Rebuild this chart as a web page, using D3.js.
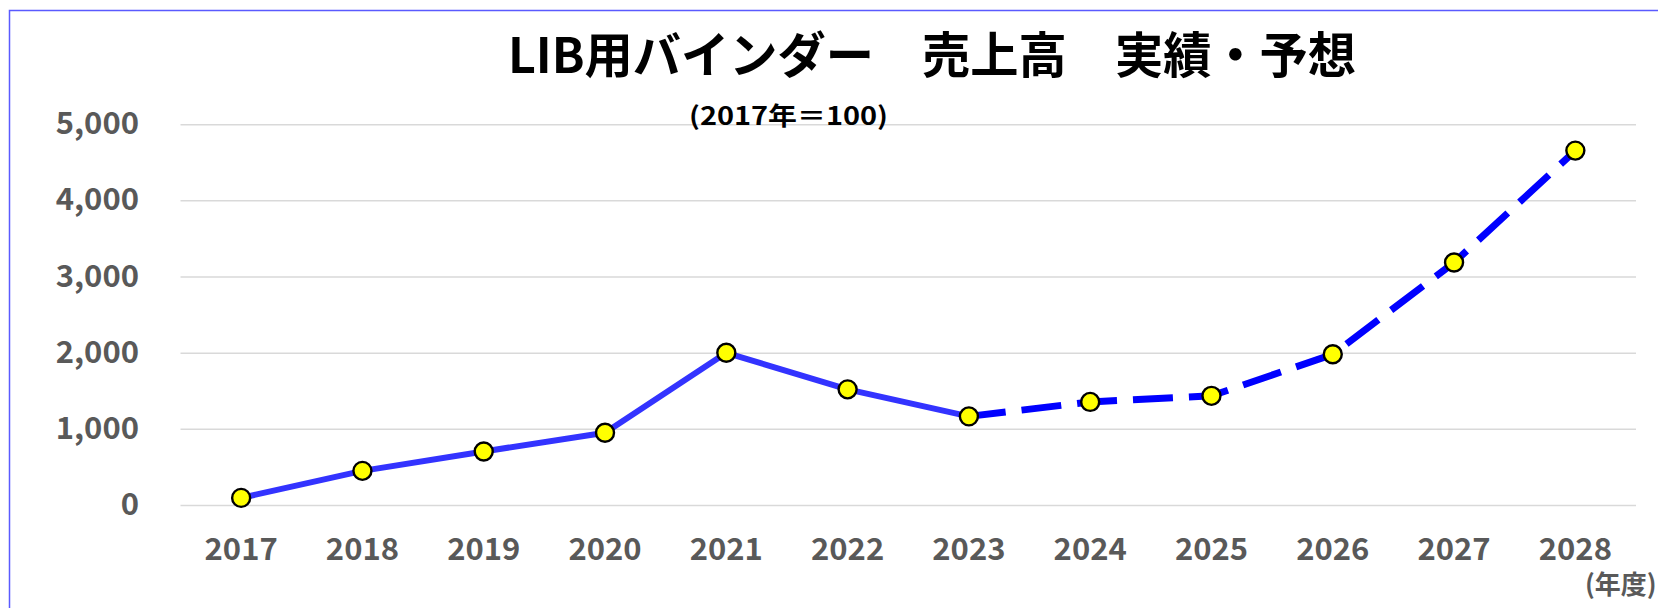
<!DOCTYPE html>
<html>
<head>
<meta charset="utf-8">
<script src="https://cdn.jsdelivr.net/npm/d3@7"></script>
<style>
  html, body { margin: 0; padding: 0; background: #fff; overflow: hidden; }
  svg { display: block; }
  text { font-family: "Noto Sans CJK JP", "Noto Sans", sans-serif; }
</style>
</head>
<body>
<svg id="chart" width="1658" height="608"></svg>
<script>
// ---- data ----
const titleText = "LIB用バインダー\u3000売上高\u3000実績・予想";
const subtitleText = "(2017年＝100)";
const xUnitText = "(年度)";
const years = ["2017","2018","2019","2020","2021","2022","2023","2024","2025","2026","2027","2028"];
const actualYears = ["2017","2018","2019","2020","2021","2022","2023"];
const actualValues = [100, 455, 710, 955, 2005, 1525, 1170];
const forecastYears = ["2023","2024","2025","2026","2027","2028"];
const forecastValues = [1170, 1360, 1440, 1985, 3190, 4660];
const yTicks = [0, 1000, 2000, 3000, 4000, 5000];

// ---- layout ----
const svg = d3.select("#chart");
const W = 1658, H = 608;
const plot = { left: 180.5, right: 1636, top: 124.7, bottom: 505.5 };

// outer border
svg.append("rect")
  .attr("x", 9.5).attr("y", 10.5)
  .attr("width", W + 20).attr("height", H + 20)
  .attr("fill", "#fff")
  .attr("stroke", "#5a5aff").attr("stroke-width", 1.5);

const x = d3.scaleBand().domain(years).range([plot.left, plot.right]).padding(0);
const cx = d => x(d) + x.bandwidth() / 2;
const y = d3.scaleLinear().domain([0, 5000]).range([plot.bottom, plot.top]);

// gridlines
svg.append("g").selectAll("line").data(yTicks).join("line")
  .attr("x1", plot.left).attr("x2", plot.right)
  .attr("y1", d => y(d)).attr("y2", d => y(d))
  .attr("stroke", "#d9d9d9").attr("stroke-width", 1.5);

// y axis labels
const yAxis = svg.append("g")
  .attr("transform", "translate(139,0)")
  .call(d3.axisLeft(y).tickValues(yTicks).tickFormat(d3.format(",")).tickSize(0).tickPadding(0));
yAxis.select(".domain").remove();
yAxis.selectAll("text")
  .attr("dy", "0.29em")
  .attr("fill", "#595959")
  .style("font-size", "31px").style("font-weight", "700")
  .style("font-family", "'Noto Sans CJK JP', sans-serif");

// x axis labels
const xAxis = svg.append("g")
  .attr("transform", `translate(0,${plot.bottom})`)
  .call(d3.axisBottom(x).tickSize(0).tickPadding(0));
xAxis.select(".domain").remove();
xAxis.selectAll("text")
  .attr("y", 54.5).attr("dy", 0)
  .attr("fill", "#595959")
  .style("font-size", "31px").style("font-weight", "700")
  .style("font-family", "'Noto Sans CJK JP', sans-serif");

// lines
const line = d3.line().x(d => cx(d[0])).y(d => y(d[1]));
svg.append("path")
  .datum(actualYears.map((d, i) => [d, actualValues[i]]))
  .attr("d", line)
  .attr("fill", "none").attr("stroke", "#3333ff").attr("stroke-width", 6)
  .attr("stroke-linejoin", "round");
svg.append("path")
  .datum(forecastYears.map((d, i) => [d, forecastValues[i]]))
  .attr("d", line)
  .attr("fill", "none").attr("stroke", "#0000ff").attr("stroke-width", 7)
  .attr("stroke-dasharray", "40,16").attr("stroke-dashoffset", 3)
  .attr("stroke-linecap", "butt");

// markers
const pts = actualYears.map((d, i) => [d, actualValues[i]])
  .concat(forecastYears.slice(1).map((d, i) => [d, forecastValues[i + 1]]));
svg.append("g").selectAll("circle").data(pts).join("circle")
  .attr("cx", d => cx(d[0])).attr("cy", d => y(d[1]))
  .attr("r", 9)
  .attr("fill", "#ffff00").attr("stroke", "#000").attr("stroke-width", 2.4);

// title
svg.append("text")
  .attr("x", 508).attr("y", 73)
  .attr("textLength", 848).attr("lengthAdjust", "spacingAndGlyphs")
  .style("font-size", "49px").style("font-weight", "700")
  .attr("fill", "#000")
  .text(titleText);

// subtitle
svg.append("text")
  .attr("x", 689).attr("y", 125)
  .attr("textLength", 199).attr("lengthAdjust", "spacingAndGlyphs")
  .style("font-size", "25px").style("font-weight", "700")
  .attr("fill", "#000")
  .text(subtitleText);

// x unit
svg.append("text")
  .attr("x", 1585).attr("y", 593.5)
  .style("font-size", "26px").style("font-weight", "700")
  .attr("fill", "#595959")
  .text(xUnitText);
</script>
</body>
</html>
